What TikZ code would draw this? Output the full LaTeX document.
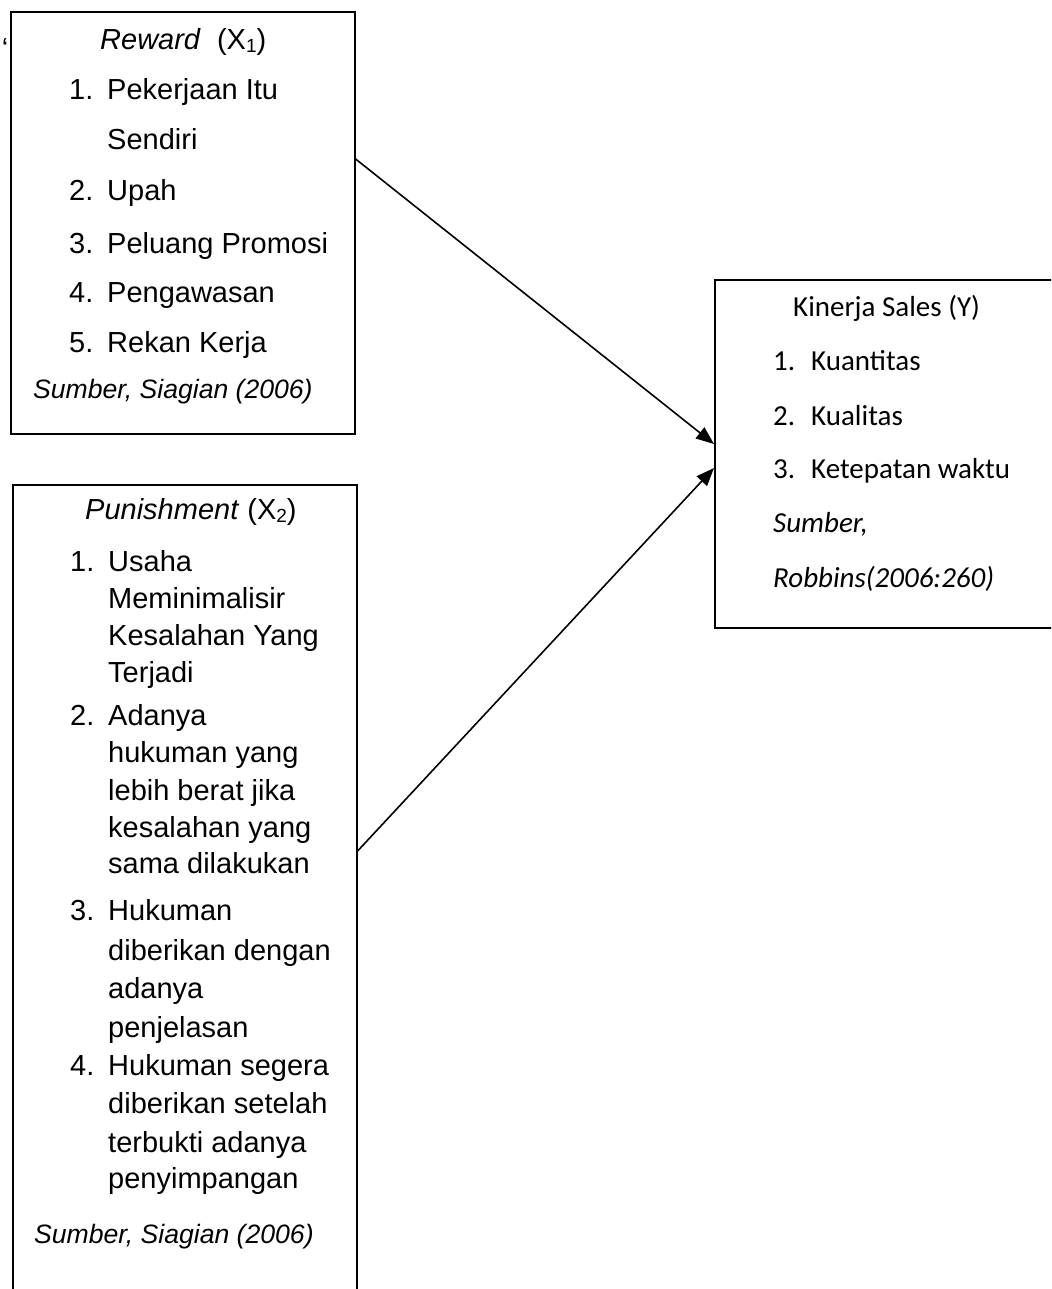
\documentclass[tikz,border=0pt]{standalone}
\usepackage{fontspec}
\setmainfont{Liberation Sans}
\newfontfamily\calfont{Carlito}
\usetikzlibrary{arrows.meta}
\newcommand{\subidx}[1]{\raisebox{-3pt}{\fontsize{19}{19}\selectfont #1}}
\begin{document}
\begin{tikzpicture}[x=1pt,y=-1pt,
  box/.style={draw,line width=1.6pt,rectangle,inner sep=0pt,anchor=north west},
  ar/.style={line width=1.6pt,-{Triangle[length=18pt,width=14pt]}},
  tx/.style={anchor=base west,inner sep=0pt,font=\fontsize{29}{34}\selectfont},
  src/.style={anchor=base west,inner sep=0pt,font=\fontsize{26.6}{30}\selectfont\itshape},
  ctx/.style={anchor=base west,inner sep=0pt,font=\calfont\fontsize{29}{34}\selectfont},
  csrc/.style={anchor=base west,inner sep=0pt,font=\calfont\itshape\fontsize{29}{34}\selectfont}]
\useasboundingbox (0,0) rectangle (1051,1289);
\clip (0,0) rectangle (1051,1289);
\fill[white] (0,0) rectangle (1051,1289);

% boxes
\node[box,minimum width=344pt,minimum height=422pt] (b1) at (10,11) {};
\node[box,minimum width=344pt,minimum height=830pt] (b2) at (12,484) {};
\node[box,minimum width=360pt,minimum height=348pt] (b3) at (714,279) {};

% stray mark
\node[inner sep=0pt,font=\fontsize{29}{34}\selectfont] (q) at (5,49) {‘};

% box 1
\node[tx] (r0) at (100,50) {\textit{Reward}\ \ (X\subidx{1})};
\node[tx] (r1n) at (69,100) {1.};
\node[tx] (r1) at (107,100) {Pekerjaan Itu};
\node[tx] (r1b) at (107,150) {Sendiri};
\node[tx] (r2n) at (69,201) {2.};
\node[tx] (r2) at (107,201) {Upah};
\node[tx] (r3n) at (69,253) {3.};
\node[tx] (r3) at (107,253) {Peluang Promosi};
\node[tx] (r4n) at (69,302) {4.};
\node[tx] (r4) at (107,302) {Pengawasan};
\node[tx] (r5n) at (69,352) {5.};
\node[tx] (r5) at (107,352) {Rekan Kerja};
\node[src] (rs) at (33,398) {Sumber, Siagian (2006)};

% box 2
\node[tx] (p0) at (85,519) {\textit{Punishment} (X\subidx{2})};
\node[tx] (p1n) at (70,571) {1.};
\node[tx] (p1a) at (108,571) {Usaha};
\node[tx] (p1b) at (108,608) {Meminimalisir};
\node[tx] (p1c) at (108,645) {Kesalahan Yang};
\node[tx] (p1d) at (108,682) {Terjadi};
\node[tx] (p2n) at (70,725) {2.};
\node[tx] (p2a) at (108,725) {Adanya};
\node[tx] (p2b) at (108,762) {hukuman yang};
\node[tx] (p2c) at (108,800) {lebih berat jika};
\node[tx] (p2d) at (108,837) {kesalahan yang};
\node[tx] (p2e) at (108,873) {sama dilakukan};
\node[tx] (p3n) at (70,920) {3.};
\node[tx] (p3a) at (108,920) {Hukuman};
\node[tx] (p3b) at (108,960) {diberikan dengan};
\node[tx] (p3c) at (108,998) {adanya};
\node[tx] (p3d) at (108,1037) {penjelasan};
\node[tx] (p4n) at (70,1075) {4.};
\node[tx] (p4a) at (108,1075) {Hukuman segera};
\node[tx] (p4b) at (108,1113) {diberikan setelah};
\node[tx] (p4c) at (108,1152) {terbukti adanya};
\node[tx] (p4d) at (108,1188) {penyimpangan};
\node[src] (ps) at (34,1243) {Sumber, Siagian (2006)};

% box 3
\node[ctx] (k0) at (793,316) {Kinerja Sales (Y)};
\node[ctx] (k1n) at (773,370) {1.};
\node[ctx] (k1) at (811,370) {Kuantitas};
\node[ctx] (k2n) at (773,425) {2.};
\node[ctx] (k2) at (811,425) {Kualitas};
\node[ctx] (k3n) at (773,478) {3.};
\node[ctx] (k3) at (811,478) {Ketepatan waktu};
\node[csrc] (ks1) at (773,532) {Sumber,};
\node[csrc] (ks2) at (773,587) {Robbins(2006:260)};

% arrows
\draw[ar] ([yshift=-148pt]b1.north east) -- ([yshift=-165pt]b3.north west);
\draw[ar] ([yshift=-367pt]b2.north east) -- ([yshift=-189pt]b3.north west);
\end{tikzpicture}
\end{document}
